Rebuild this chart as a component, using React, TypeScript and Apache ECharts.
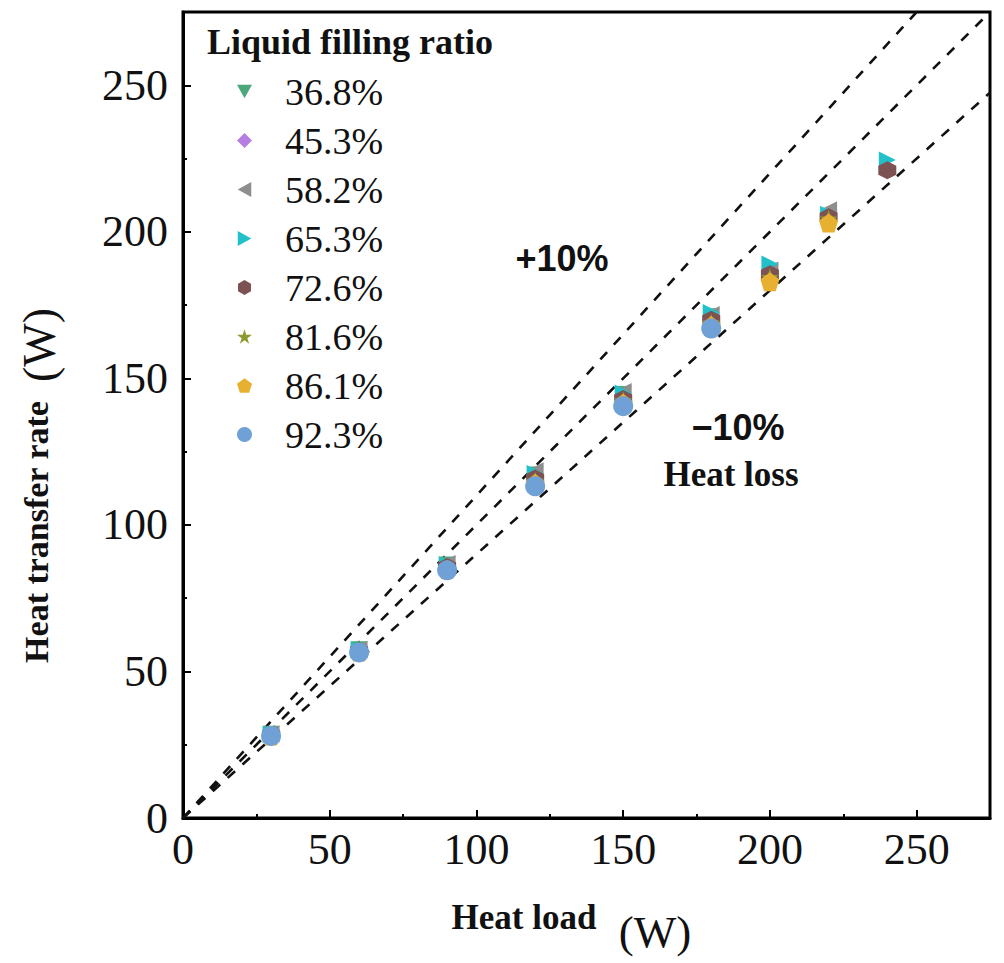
import { useEffect, useRef } from 'react';
import * as echarts from 'echarts';

// heat load steps (W)
const heatLoad = [30, 60, 90, 120, 150, 180, 200, 220, 240];

// heat transfer rate per filling ratio (W)
const fill368 = [28.6, 57.4, 86.3, 117.0, 144.5, 171.0];
const fill453 = [28.4, 57.0, 85.8, 116.0, 143.8, 170.2];
const fill582 = [28.7, 57.6, 86.8, 118.5, 145.5, 171.8, 187.0, 207.5];
const fill653 = [28.5, 57.3, 86.4, 117.5, 145.0, 172.5, 189.0, 206.0, 224.5];
const fill726 = [28.3, 57.0, 85.6, 115.8, 143.0, 170.0, 185.5, 205.0, 221.0];
const fill816 = [28.2, 56.8, 85.2, 115.0, 142.5, 169.0, 184.5, 204.5];
const fill861 = [28.0, 56.6, 84.8, 114.2, 141.5, 168.0, 183.0, 203.0];
const fill923 = [28.0, 56.5, 84.5, 113.2, 140.5, 167.0];

// reference lines: y = x, +10 %, -10 %
const lineEqual = [[0, 0], [275, 275]];
const linePlus10 = [[0, 0], [250, 275]];
const lineMinus10 = [[0, 0], [275, 247.5]];

const axisTicks = [0, 50, 100, 150, 200, 250];

const SERIF = '"Liberation Serif", "Times New Roman", serif';
const SANS = '"Liberation Sans", Arial, sans-serif';

const triDown = 'path://M0,0 L10,0 L5,9 Z';
const triLeft = 'path://M0,5 L9,0 L9,10 Z';
const triRight = 'path://M0,0 L9,5 L0,10 Z';
const hexagon = 'path://M5,0 L9.33,2.5 L9.33,7.5 L5,10 L0.67,7.5 L0.67,2.5 Z';
const star =
  'path://M5,0 L6.12,3.45 L9.76,3.45 L6.82,5.58 L7.94,9.05 L5,6.9 L2.06,9.05 L3.18,5.58 L0.24,3.45 L3.88,3.45 Z';
const pentagon = 'path://M5,0 L9.76,3.45 L7.94,9.05 L2.06,9.05 L0.24,3.45 Z';

const groups = [
  { name: '36.8%', values: fill368, color: '#4aa87a', symbol: triDown, size: 17 },
  { name: '45.3%', values: fill453, color: '#b47fe0', symbol: 'diamond', size: 18 },
  { name: '58.2%', values: fill582, color: '#8e8e8e', symbol: triLeft, size: 17 },
  { name: '65.3%', values: fill653, color: '#22c1c9', symbol: triRight, size: 17 },
  { name: '72.6%', values: fill726, color: '#7d5252', symbol: hexagon, size: 18 },
  { name: '81.6%', values: fill816, color: '#8f9a2e', symbol: star, size: 18 },
  { name: '86.1%', values: fill861, color: '#e8b030', symbol: pentagon, size: 19 },
  { name: '92.3%', values: fill923, color: '#6fa0d6', symbol: 'circle', size: 20 },
];

const dashed = (data: number[][]) => ({
  type: 'line',
  data,
  symbol: 'none',
  silent: true,
  z: 1,
  lineStyle: { color: '#111', width: 2.6, type: [10, 10] },
});

const App = () => {
  const chartRef = useRef<HTMLDivElement>(null);

  useEffect(() => {
    document.body.style.margin = '0';
    if (!chartRef.current) return;
    const chart = echarts.init(chartRef.current, null, { renderer: 'svg' });

    const majorAxis = {
      type: 'value',
      min: 0,
      max: 275,
      interval: 50,
      axisLine: { show: true, lineStyle: { color: '#000', width: 3 } },
      axisTick: { show: true, inside: true, length: 8, lineStyle: { color: '#000', width: 2 }, customValues: axisTicks },
      axisLabel: { fontFamily: SERIF, fontSize: 44, color: '#111', customValues: axisTicks },
      splitLine: { show: false },
    };
    const minorAxis = {
      type: 'value',
      min: 0,
      max: 275,
      interval: 25,
      axisLine: { show: false },
      axisTick: { show: true, inside: true, length: 4, lineStyle: { color: '#000', width: 2 } },
      axisLabel: { show: false },
      splitLine: { show: false },
    };

    chart.setOption({
      animation: false,
      backgroundColor: '#fff',
      grid: {
        left: 183,
        right: 14,
        top: 12,
        bottom: 145,
        show: true,
        borderColor: '#000',
        borderWidth: 3,
        backgroundColor: 'transparent',
      },
      xAxis: [
        { ...majorAxis, position: 'bottom', axisLabel: { ...majorAxis.axisLabel, margin: 9 } },
        { ...minorAxis, position: 'bottom' },
      ],
      yAxis: [
        { ...majorAxis, position: 'left', axisLabel: { ...majorAxis.axisLabel, margin: 15 } },
        { ...minorAxis, position: 'left' },
      ],
      legend: {
        orient: 'vertical',
        left: 232,
        top: 66,
        itemWidth: 15,
        itemHeight: 15,
        itemGap: 8,
        data: groups.map((g) => ({ name: g.name, icon: g.symbol })),
        textStyle: {
          fontFamily: SERIF,
          fontSize: 38,
          color: '#111',
          lineHeight: 41,
          padding: [0, 0, 0, 28],
        },
      },
      graphic: [
        {
          type: 'text',
          left: 207,
          top: 24,
          style: { text: 'Liquid filling ratio', font: `bold 36px ${SERIF}`, fill: '#111' },
        },
        {
          type: 'text',
          x: 36,
          y: 532,
          rotation: Math.PI / 2,
          style: {
            text: 'Heat transfer rate',
            font: `bold 34px ${SERIF}`,
            fill: '#111',
            align: 'center',
            verticalAlign: 'middle',
          },
        },
        {
          type: 'text',
          x: 39,
          y: 345,
          rotation: Math.PI / 2,
          style: { text: '(W)', font: `46px ${SERIF}`, fill: '#111', align: 'center', verticalAlign: 'middle' },
        },
        {
          type: 'text',
          x: 524,
          y: 917,
          style: {
            text: 'Heat load',
            font: `bold 35px ${SERIF}`,
            fill: '#111',
            align: 'center',
            verticalAlign: 'middle',
          },
        },
        {
          type: 'text',
          x: 655,
          y: 932,
          style: { text: '(W)', font: `45px ${SERIF}`, fill: '#111', align: 'center', verticalAlign: 'middle' },
        },
        {
          type: 'text',
          x: 562,
          y: 258,
          style: { text: '+10%', font: `bold 36px ${SANS}`, fill: '#111', align: 'center', verticalAlign: 'middle' },
        },
        {
          type: 'text',
          x: 738,
          y: 427,
          style: { text: '\u221210%', font: `bold 36px ${SANS}`, fill: '#111', align: 'center', verticalAlign: 'middle' },
        },
        {
          type: 'text',
          x: 731,
          y: 474,
          style: {
            text: 'Heat loss',
            font: `bold 35px ${SERIF}`,
            fill: '#111',
            align: 'center',
            verticalAlign: 'middle',
          },
        },
      ],
      series: [
        dashed(linePlus10),
        dashed(lineEqual),
        dashed(lineMinus10),
        ...groups.map((g) => ({
          name: g.name,
          type: 'scatter',
          symbol: g.symbol,
          symbolSize: g.size,
          itemStyle: { color: g.color, opacity: 1 },
          data: g.values.map((v, i) => [heatLoad[i], v]),
          z: 3,
        })),
      ],
    });

    return () => chart.dispose();
  }, []);

  return <div ref={chartRef} style={{ width: 1004, height: 963 }} />;
};

export default App;
